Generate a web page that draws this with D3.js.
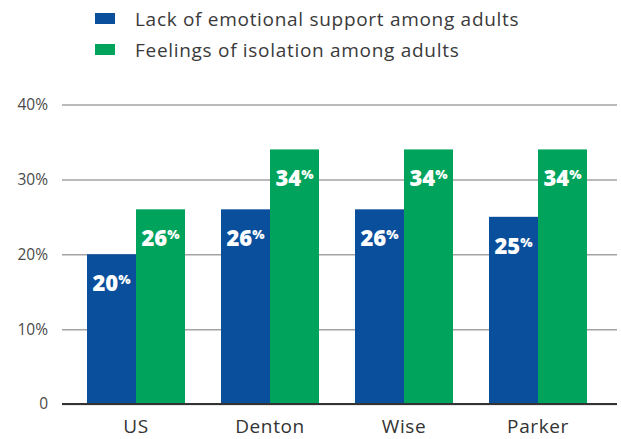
<!DOCTYPE html>
<html>
<head>
<meta charset="utf-8">
<script src="https://cdn.jsdelivr.net/npm/d3@7"></script>
<style>
  html, body { margin: 0; padding: 0; background: #fff; }
  svg { display: block; }
</style>
</head>
<body>
<svg id="chart" width="621" height="439"></svg>
<script>
const categories = ["US", "Denton", "Wise", "Parker"];
const seriesNames = ["Lack of emotional support among adults", "Feelings of isolation among adults"];
const emotionalSupport = [20, 26, 26, 25];
const isolation = [26, 34, 34, 34];
const yTicks = [0, 10, 20, 30, 40];
const colors = ["#0a4f9c", "#00a35c"];

const svg = d3.select("#chart");
const font = "'Open Sans', Lato, sans-serif";

const x0 = d3.scaleBand().domain(categories).range([62, 612]).paddingInner(0.2687).paddingOuter(0.1866);
const x1 = d3.scaleBand().domain([0, 1]).range([0, x0.bandwidth()]);
const y = d3.scaleLinear().domain([0, 40]).range([404, 104.5]);

// grid + y axis
const yAxis = d3.axisLeft(y).tickValues(yTicks)
  .tickFormat(d => d === 0 ? "0" : d + "%")
  .tickSize(-(617 - 62)).tickPadding(14);
const gy = svg.append("g").attr("transform", "translate(62,0)").call(yAxis);
gy.select(".domain").remove();
gy.selectAll(".tick line").attr("stroke", "#a3a3a3").attr("stroke-width", 1.5);
gy.selectAll(".tick text").attr("fill", "#4a4a4a").style("font-family", font).style("font-size", "15.5px");

// bars
const rows = categories.map((c, i) => ({ cat: c, vals: [emotionalSupport[i], isolation[i]] }));
const groups = svg.append("g").selectAll("g").data(rows).join("g")
  .attr("transform", d => `translate(${x0(d.cat)},0)`);
groups.selectAll("rect").data(d => d.vals.map((v, k) => ({ v, k }))).join("rect")
  .attr("x", d => x1(d.k)).attr("width", x1.bandwidth())
  .attr("y", d => y(d.v)).attr("height", d => y(0) - y(d.v))
  .attr("fill", d => colors[d.k]);

// value labels
const lab = groups.selectAll("text.val").data(d => d.vals.map((v, k) => ({ v, k }))).join("text")
  .attr("class", "val")
  .attr("x", d => x1(d.k) + x1.bandwidth() / 2)
  .attr("y", d => y(d.v) + 37)
  .attr("text-anchor", "middle")
  .attr("fill", "#fff")
  .style("font-family", font).style("font-weight", "800");
lab.append("tspan").style("font-size", "22px").text(d => d.v);
lab.append("tspan").style("font-size", "13px").attr("dy", "-7").text("%");

// category labels
const xAxis = d3.axisBottom(x0).tickSize(0).tickPadding(0);
const gx = svg.append("g").attr("transform", `translate(0,${y(0)})`).call(xAxis);
gx.select(".domain").remove();
gx.selectAll(".tick text").attr("dy", null).attr("y", 29).attr("fill", "#333")
  .style("font-family", font).style("font-size", "19px").style("letter-spacing", "0.6px");
// baseline
svg.append("line").attr("x1", 62).attr("x2", 617).attr("y1", y(0)).attr("y2", y(0))
  .attr("stroke", "#333").attr("stroke-width", 2);

// legend
const leg = svg.append("g").selectAll("g").data(seriesNames).join("g")
  .attr("transform", (d, i) => `translate(95,${13 + i * 31})`);
leg.append("rect").attr("width", 20).attr("height", 11).attr("fill", (d, i) => colors[i]);
leg.append("text").attr("x", 40).attr("y", 13).attr("fill", "#3a3a3a")
  .style("font-family", font).style("font-size", "19px").style("letter-spacing", "0.7px").text(d => d);
</script>
</body>
</html>
